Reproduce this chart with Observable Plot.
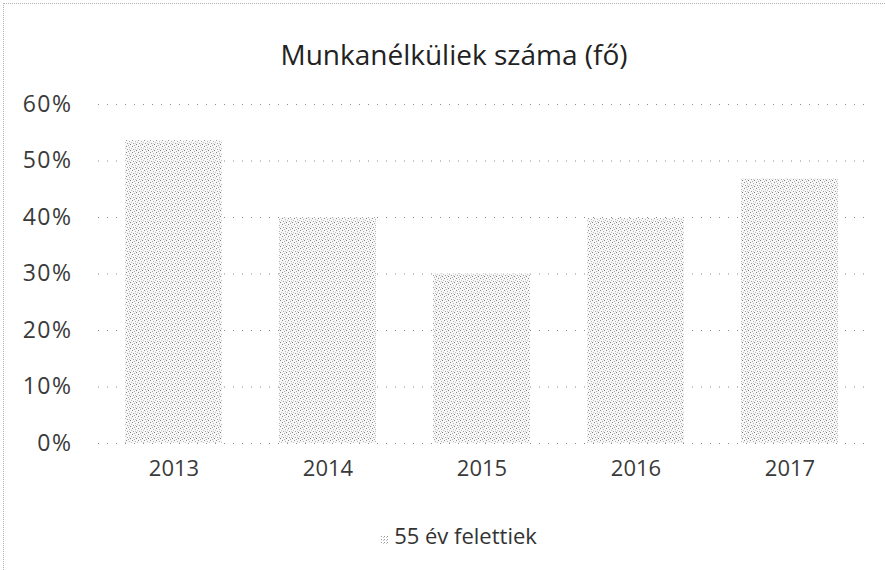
<!DOCTYPE html>
<html>
<head>
<meta charset="utf-8">
<script src="https://cdn.jsdelivr.net/npm/d3@7"></script>
<script src="https://cdn.jsdelivr.net/npm/@observablehq/plot@0.6"></script>
<style>
  body { margin: 0; background: #fff; font-family: "Open Sans", Lato, sans-serif; }
  #chart { position: relative; width: 885px; height: 570px; overflow: hidden; background: #fff; }
  #frame { position: absolute; left: 3px; top: 3px; right: -2px; bottom: -2px;
           border-top: 1px dotted #b0b0b0; border-left: 1px dotted #b0b0b0; pointer-events: none; }
  #title { position: absolute; top: 35px; left: 0; width: 908px; text-align: center;
           font-size: 28px; color: #222; line-height: 38px; }
  #plotwrap { position: absolute; top: 80px; left: 0; }
  #plotwrap svg g[aria-label="y-axis tick label"] text { letter-spacing: 1.5px; }
  #legend { position: absolute; top: 520px; left: 0; width: 918px; text-align: center;
            font-size: 22px; color: #333; line-height: 30px; }
  #legend .sw { display: inline-block; width: 8px; height: 9px; margin-right: 5px;
                vertical-align: -1px; }
</style>
</head>
<body>
<div id="chart">
  <div id="frame"></div>
  <div id="title"></div>
  <div id="plotwrap"></div>
  <div id="legend"></div>
</div>
<script>
const chartTitle = "Munkanélküliek száma (fő)";
const seriesName = "55 év felettiek";
const years = ["2013", "2014", "2015", "2016", "2017"];
const values = [0.536, 0.400, 0.300, 0.398, 0.468];
const yTicks = [0, 0.1, 0.2, 0.3, 0.4, 0.5, 0.6];

const data = years.map((year, i) => ({year, value: values[i]}));

document.getElementById("title").textContent = chartTitle;

const plot = Plot.plot({
  width: 885,
  height: 420,
  marginTop: 24,
  marginBottom: 57,
  marginLeft: 98,
  marginRight: 20,
  x: {domain: years, paddingInner: 0.37, paddingOuter: 0.17, label: null, axis: null},
  y: {domain: [0, 0.6], label: null, axis: null},
  style: {fontFamily: '"Open Sans", Lato, sans-serif', fontSize: "22px", color: "#3a3a3a", background: "transparent"},
  marks: [
    Plot.gridY(yTicks, {stroke: "#8a8a8a", strokeOpacity: 1, strokeDasharray: "1,8"}),
    Plot.barY(data, {x: "year", y: "value", fill: "url(#stipple)"}),
    Plot.axisY(yTicks, {tickSize: 0, tickPadding: 26, fontSize: 23, tickFormat: d => Math.round(d * 100) + "%"}),
    Plot.axisX({tickSize: 0, tickPadding: 17, fontSize: 22})
  ]
});

// stipple pattern for bar fill
const svg = d3.select(plot);
const defs = svg.insert("defs", ":first-child");
function addPattern(id) {
  const p = defs.append("pattern").attr("id", id).attr("patternUnits", "userSpaceOnUse")
    .attr("width", 6).attr("height", 6);
  p.append("rect").attr("width", 6).attr("height", 6).attr("fill", "#f7f7f7");
  const dots = [[0,0,"#8a8a8a"],[3,1,"#b4b4b4"],[1,3,"#a0a0a0"],[4,4,"#7e7e7e"],
                [5,2,"#c4c4c4"],[2,5,"#acacac"],[3,3,"#cccccc"]];
  dots.forEach(([x, y, c]) => p.append("rect").attr("x", x).attr("y", y)
    .attr("width", 1).attr("height", 1).attr("fill", c));
}
addPattern("stipple");
document.getElementById("plotwrap").appendChild(plot);

// legend
const lg = document.getElementById("legend");
const sw = document.createElementNS("http://www.w3.org/2000/svg", "svg");
sw.setAttribute("class", "sw");
sw.setAttribute("width", 8); sw.setAttribute("height", 9);
sw.innerHTML = '<defs><pattern id="stipple2" patternUnits="userSpaceOnUse" width="3" height="3"><rect width="3" height="3" fill="#fff"/><rect x="0" y="0" width="1" height="1" fill="#9a9a9a"/><rect x="2" y="1" width="1" height="1" fill="#c0c0c0"/></pattern></defs><rect width="8" height="9" fill="url(#stipple2)"/>';
lg.appendChild(sw);
lg.appendChild(document.createTextNode(seriesName));
</script>
</body>
</html>
